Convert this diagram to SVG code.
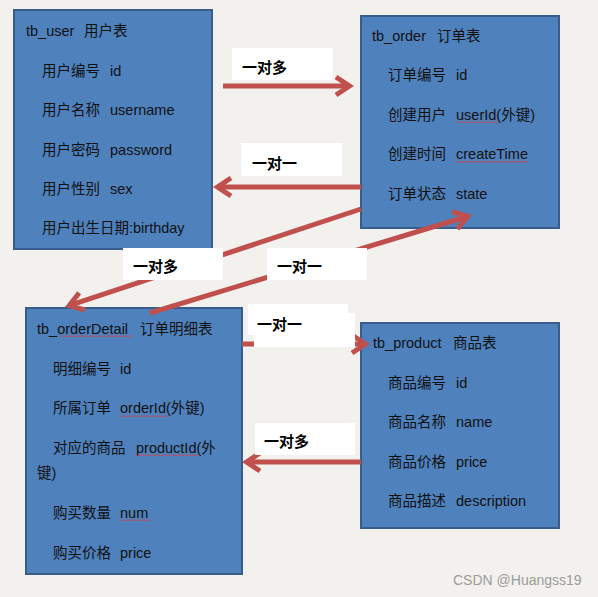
<svg xmlns="http://www.w3.org/2000/svg" width="598" height="597" viewBox="0 0 598 597">
<style>
.box{fill:#4F81BD;stroke:#385D8A;stroke-width:2}
.t{font-family:"Liberation Sans","Noto Sans CJK SC",sans-serif;font-size:14.5px;fill:#111}
.lbl{fill:#fff}
.lt{font-family:"Noto Sans CJK SC","Liberation Sans",sans-serif;font-size:15px;font-weight:bold;fill:#000}
.con{stroke:#C0504D;stroke-width:5;fill:none}
.sq{stroke:#E03A3A;stroke-width:0.8;fill:none}
.wm{font-family:"Liberation Sans",sans-serif;font-size:14px;fill:#9c9c9c}
</style>
<defs>
<marker id="ah" markerUnits="userSpaceOnUse" viewBox="-20 -14 28 28" markerWidth="28" markerHeight="28" refX="0" refY="0" orient="auto">
<path d="M-13,-9 L0.5,0 L-13,9" fill="none" stroke="#C0504D" stroke-width="5" stroke-miterlimit="10"/>
</marker>
</defs>
<rect x="0" y="0" width="598" height="597" fill="#F2F1EE"/>

<g id="tb_user">
<rect class="box" x="14" y="10" width="198" height="239"/>
<text class="t" y="36"><tspan x="26">tb_user</tspan><tspan x="84">用户表</tspan></text>
<text class="t" y="76"><tspan x="42">用户编号</tspan><tspan x="110">id</tspan></text>
<text class="t" y="115"><tspan x="42">用户名称</tspan><tspan x="110">username</tspan></text>
<text class="t" y="155"><tspan x="42">用户密码</tspan><tspan x="110">password</tspan></text>
<text class="t" y="194"><tspan x="42">用户性别</tspan><tspan x="110">sex</tspan></text>
<text class="t" x="42" y="233">用户出生日期:birthday</text>
</g>

<g id="tb_order">
<rect class="box" x="361" y="16" width="198" height="212"/>
<text class="t" y="41"><tspan x="372">tb_order</tspan><tspan x="437">订单表</tspan></text>
<text class="t" y="80"><tspan x="388">订单编号</tspan><tspan x="456">id</tspan></text>
<text class="t" y="120"><tspan x="388">创建用户</tspan><tspan x="456">userId(外键)</tspan></text>
<text class="t" y="159"><tspan x="388">创建时间</tspan><tspan x="456">createTime</tspan></text>
<text class="t" y="199"><tspan x="388">订单状态</tspan><tspan x="456">state</tspan></text>
<path class="sq" d="M456,121.5 l1.5,1.5 l1.5,-1.5 l1.5,1.5 l1.5,-1.5 l1.5,1.5 l1.5,-1.5 l1.5,1.5 l1.5,-1.5 l1.5,1.5 l1.5,-1.5 l1.5,1.5 l1.5,-1.5 l1.5,1.5 l1.5,-1.5 l1.5,1.5 l1.5,-1.5 l1.5,1.5 l1.5,-1.5 l1.5,1.5 l1.5,-1.5 l1.5,1.5 l1.5,-1.5 l1.5,1.5 l1.5,-1.5 l1.5,1.5 l1.5,-1.5 l1.5,1.5 l1.5,-1.5"/>
<path class="sq" d="M456,161 l1.5,1.5 l1.5,-1.5 l1.5,1.5 l1.5,-1.5 l1.5,1.5 l1.5,-1.5 l1.5,1.5 l1.5,-1.5 l1.5,1.5 l1.5,-1.5 l1.5,1.5 l1.5,-1.5 l1.5,1.5 l1.5,-1.5 l1.5,1.5 l1.5,-1.5 l1.5,1.5 l1.5,-1.5 l1.5,1.5 l1.5,-1.5 l1.5,1.5 l1.5,-1.5 l1.5,1.5 l1.5,-1.5 l1.5,1.5 l1.5,-1.5 l1.5,1.5 l1.5,-1.5 l1.5,1.5 l1.5,-1.5 l1.5,1.5 l1.5,-1.5 l1.5,1.5 l1.5,-1.5 l1.5,1.5 l1.5,-1.5 l1.5,1.5 l1.5,-1.5 l1.5,1.5 l1.5,-1.5 l1.5,1.5 l1.5,-1.5 l1.5,1.5 l1.5,-1.5 l1.5,1.5 l1.5,-1.5 l1.5,1.5 l1.5,-1.5"/>
</g>

<g id="tb_orderDetail">
<rect class="box" x="26" y="308" width="216" height="266"/>
<text class="t" y="334"><tspan x="37">tb_orderDetail</tspan><tspan x="140">订单明细表</tspan></text>
<text class="t" y="374"><tspan x="53">明细编号</tspan><tspan x="120">id</tspan></text>
<text class="t" y="413"><tspan x="53">所属订单</tspan><tspan x="120">orderId(外键)</tspan></text>
<text class="t" y="453"><tspan x="53">对应的商品</tspan><tspan x="136">productId(外</tspan></text>
<text class="t" x="37" y="478">键)</text>
<text class="t" y="518"><tspan x="53">购买数量</tspan><tspan x="120">num</tspan></text>
<text class="t" y="558"><tspan x="53">购买价格</tspan><tspan x="120">price</tspan></text>
<path class="sq" d="M60,335.5 l1.5,1.5 l1.5,-1.5 l1.5,1.5 l1.5,-1.5 l1.5,1.5 l1.5,-1.5 l1.5,1.5 l1.5,-1.5 l1.5,1.5 l1.5,-1.5 l1.5,1.5 l1.5,-1.5 l1.5,1.5 l1.5,-1.5 l1.5,1.5 l1.5,-1.5 l1.5,1.5 l1.5,-1.5 l1.5,1.5 l1.5,-1.5 l1.5,1.5 l1.5,-1.5 l1.5,1.5 l1.5,-1.5 l1.5,1.5 l1.5,-1.5 l1.5,1.5 l1.5,-1.5 l1.5,1.5 l1.5,-1.5 l1.5,1.5 l1.5,-1.5 l1.5,1.5 l1.5,-1.5 l1.5,1.5 l1.5,-1.5 l1.5,1.5 l1.5,-1.5 l1.5,1.5 l1.5,-1.5 l1.5,1.5 l1.5,-1.5 l1.5,1.5 l1.5,-1.5 l1.5,1.5 l1.5,-1.5 l1.5,1.5 l1.5,-1.5"/>
<path class="sq" d="M120,415.5 l1.5,1.5 l1.5,-1.5 l1.5,1.5 l1.5,-1.5 l1.5,1.5 l1.5,-1.5 l1.5,1.5 l1.5,-1.5 l1.5,1.5 l1.5,-1.5 l1.5,1.5 l1.5,-1.5 l1.5,1.5 l1.5,-1.5 l1.5,1.5 l1.5,-1.5 l1.5,1.5 l1.5,-1.5 l1.5,1.5 l1.5,-1.5 l1.5,1.5 l1.5,-1.5 l1.5,1.5 l1.5,-1.5 l1.5,1.5 l1.5,-1.5 l1.5,1.5 l1.5,-1.5 l1.5,1.5 l1.5,-1.5 l1.5,1.5 l1.5,-1.5"/>
<path class="sq" d="M136,454.5 l1.5,1.5 l1.5,-1.5 l1.5,1.5 l1.5,-1.5 l1.5,1.5 l1.5,-1.5 l1.5,1.5 l1.5,-1.5 l1.5,1.5 l1.5,-1.5 l1.5,1.5 l1.5,-1.5 l1.5,1.5 l1.5,-1.5 l1.5,1.5 l1.5,-1.5 l1.5,1.5 l1.5,-1.5 l1.5,1.5 l1.5,-1.5 l1.5,1.5 l1.5,-1.5 l1.5,1.5 l1.5,-1.5 l1.5,1.5 l1.5,-1.5 l1.5,1.5 l1.5,-1.5 l1.5,1.5 l1.5,-1.5 l1.5,1.5 l1.5,-1.5 l1.5,1.5 l1.5,-1.5 l1.5,1.5 l1.5,-1.5 l1.5,1.5 l1.5,-1.5 l1.5,1.5 l1.5,-1.5 l1.5,1.5 l1.5,-1.5"/>
<path class="sq" d="M120,519.5 l1.5,1.5 l1.5,-1.5 l1.5,1.5 l1.5,-1.5 l1.5,1.5 l1.5,-1.5 l1.5,1.5 l1.5,-1.5 l1.5,1.5 l1.5,-1.5 l1.5,1.5 l1.5,-1.5 l1.5,1.5 l1.5,-1.5 l1.5,1.5 l1.5,-1.5 l1.5,1.5 l1.5,-1.5 l1.5,1.5 l1.5,-1.5"/>
</g>

<g id="tb_product">
<rect class="box" x="361" y="323" width="198" height="205"/>
<text class="t" y="348"><tspan x="373">tb_product</tspan><tspan x="453">商品表</tspan></text>
<text class="t" y="388"><tspan x="388">商品编号</tspan><tspan x="456">id</tspan></text>
<text class="t" y="427"><tspan x="388">商品名称</tspan><tspan x="456">name</tspan></text>
<text class="t" y="467"><tspan x="388">商品价格</tspan><tspan x="456">price</tspan></text>
<text class="t" y="506"><tspan x="388">商品描述</tspan><tspan x="456">description</tspan></text>
</g>

<g id="connectors">
<path class="con" d="M223,86 L349,86" marker-end="url(#ah)"/>
<path class="con" d="M361,187 L218,187" marker-end="url(#ah)"/>
<path class="con" d="M361,209 L69.7,305.4" marker-end="url(#ah)"/>
<path class="con" d="M150,313 L467.2,216.5" marker-end="url(#ah)"/>
<path class="con" d="M242,344 L365,344" marker-end="url(#ah)"/>
<path class="con" d="M361,462 L247,462" marker-end="url(#ah)"/>
</g>

<g id="labels">
<rect class="lbl" x="232" y="48" width="101" height="32"/>
<text class="lt" x="242" y="73">一对多</text>
<rect class="lbl" x="241" y="143" width="101" height="33"/>
<text class="lt" x="252" y="169">一对一</text>
<rect class="lbl" x="123" y="248" width="100" height="32"/>
<text class="lt" x="133" y="272">一对多</text>
<rect class="lbl" x="267" y="248" width="100" height="32"/>
<text class="lt" x="277" y="272">一对一</text>
<rect class="lbl" x="254" y="313" width="101" height="34"/>
<rect class="lbl" x="248" y="304" width="100" height="31"/>
<text class="lt" x="257" y="330">一对一</text>
<rect class="lbl" x="255" y="423" width="100" height="32"/>
<text class="lt" x="264" y="447">一对多</text>
</g>

<text class="wm" x="453" y="585">CSDN @Huangss19</text>
</svg>
